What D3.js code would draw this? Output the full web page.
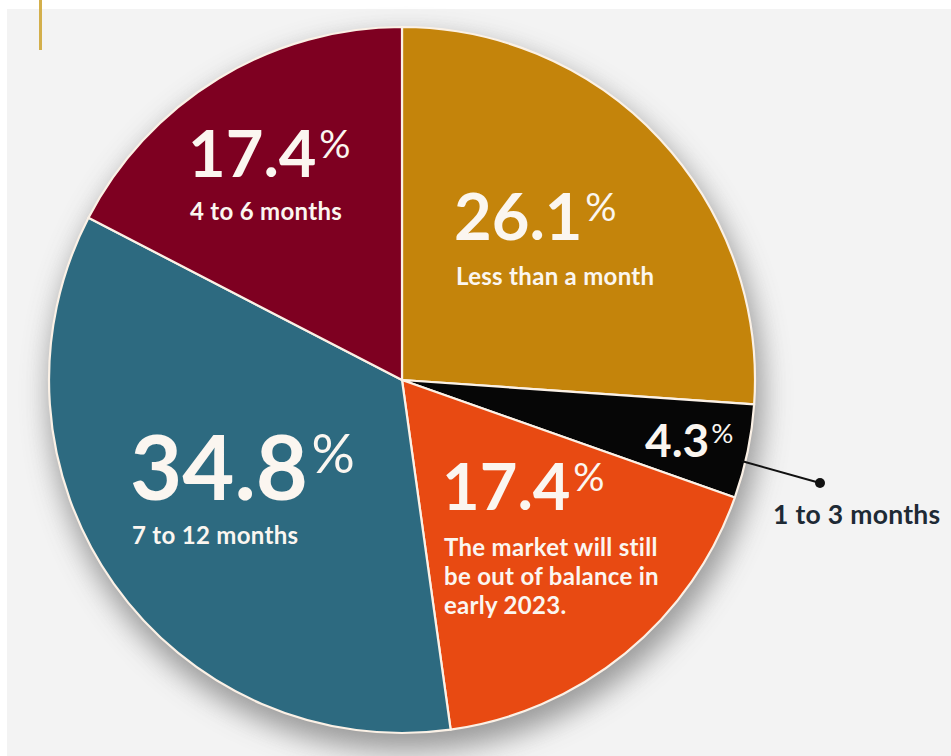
<!DOCTYPE html>
<html>
<head>
<meta charset="utf-8">
<script src="https://cdn.jsdelivr.net/npm/d3@7"></script>
<style>
  html, body { margin: 0; padding: 0; background: #ffffff; }
  svg { display: block; }
  text { font-family: Lato, "Open Sans", sans-serif; }
</style>
</head>
<body>
<svg id="chart" width="951" height="756"></svg>
<script>
// Survey shares: how long until the market comes back into balance
const categories = [
  "Less than a month",
  "1 to 3 months",
  "The market will still\nbe out of balance in\nearly 2023.",
  "7 to 12 months",
  "4 to 6 months"
];
const values = [26.1, 4.3, 17.4, 34.8, 17.4];
const colors = ["#c4840b", "#060606", "#e84a12", "#2d6a80", "#7e0021"];

// Label placement per slice (left x, baseline of the big figure, sizes)
const labelLayout = [
  { x: 454, y: 240, big: 65, sub: 24, gap: 45, lineH: 30 },
  { x: 645, y: 457, big: 46, sub: 0, gap: 0, lineH: 0 },
  { x: 442, y: 510, big: 65, sub: 24, gap: 46, lineH: 29 },
  { x: 130, y: 500, big: 90, sub: 24, gap: 44, lineH: 30 },
  { x: 188, y: 177, big: 65, sub: 24, gap: 43, lineH: 30 }
];

const svg = d3.select("#chart");
const W = 951, H = 756;
const cx = 402, cy = 380, R = 353;

// page backdrop
svg.append("rect").attr("width", W).attr("height", H).attr("fill", "#ffffff");
svg.append("rect").attr("x", 7).attr("y", 9).attr("width", W - 7).attr("height", H - 9).attr("fill", "#f3f3f3");
svg.append("rect").attr("x", 39).attr("y", 0).attr("width", 3).attr("height", 50).attr("fill", "#d3af4b");

// soft drop shadow under the pie
const defs = svg.append("defs");
const f = defs.append("filter").attr("id", "shadow")
  .attr("x", "-30%").attr("y", "-30%").attr("width", "160%").attr("height", "160%");
f.append("feGaussianBlur").attr("stdDeviation", 14);

const g = svg.append("g").attr("transform", `translate(${cx},${cy})`);

g.append("circle")
  .attr("cx", 4).attr("cy", 14).attr("r", R + 4)
  .attr("fill", "#5e5e5e").attr("opacity", 0.6)
  .attr("filter", "url(#shadow)");

const pie = d3.pie().sort(null).value(d => d)(values);
const arc = d3.arc().innerRadius(0).outerRadius(R);

g.selectAll("path.slice")
  .data(pie)
  .join("path")
  .attr("class", "slice")
  .attr("d", arc)
  .attr("fill", (d, i) => colors[i])
  .attr("stroke", "#fbf1e6")
  .attr("stroke-width", 2.2)
  .attr("stroke-linejoin", "round");

// labels
const textColor = "#fbf6f0";
pie.forEach((d, i) => {
  const L = labelLayout[i];
  const num = svg.append("text")
    .attr("x", L.x).attr("y", L.y)
    .attr("fill", textColor)
    .attr("font-weight", 700)
    .attr("font-size", L.big)
    .text(d3.format(".1f")(values[i]));
  const w = num.node().getComputedTextLength();
  svg.append("text")
    .attr("x", L.x + w + L.big * 0.04)
    .attr("y", L.y - L.big * 0.30)
    .attr("fill", textColor)
    .attr("font-weight", 400)
    .attr("font-size", L.big * 0.6)
    .text("%");
  if (L.sub > 0) {
    categories[i].split("\n").forEach((line, k) => {
      svg.append("text")
        .attr("x", L.x + 2)
        .attr("y", L.y + L.gap + k * L.lineH)
        .attr("fill", textColor)
        .attr("font-weight", 700)
        .attr("font-size", L.sub)
        .attr("letter-spacing", 0.3)
        .text(line);
    });
  }
});

// callout for the thin slice
const thin = pie[1];
const midA = (thin.startAngle + thin.endAngle) / 2 + 0.03;
const edge = [cx + Math.sin(midA) * (R - 4), cy - Math.cos(midA) * (R - 4)];
const dot = [820, 483];
svg.append("line")
  .attr("x1", edge[0]).attr("y1", edge[1])
  .attr("x2", dot[0]).attr("y2", dot[1])
  .attr("stroke", "#111").attr("stroke-width", 2);
svg.append("circle").attr("cx", dot[0]).attr("cy", dot[1]).attr("r", 5).attr("fill", "#111");
svg.append("text")
  .attr("x", 773).attr("y", 524)
  .attr("fill", "#1e2a35")
  .attr("font-weight", 700)
  .attr("font-size", 26.5)
  .attr("letter-spacing", 0.3)
  .text(categories[1]);
</script>
</body>
</html>
